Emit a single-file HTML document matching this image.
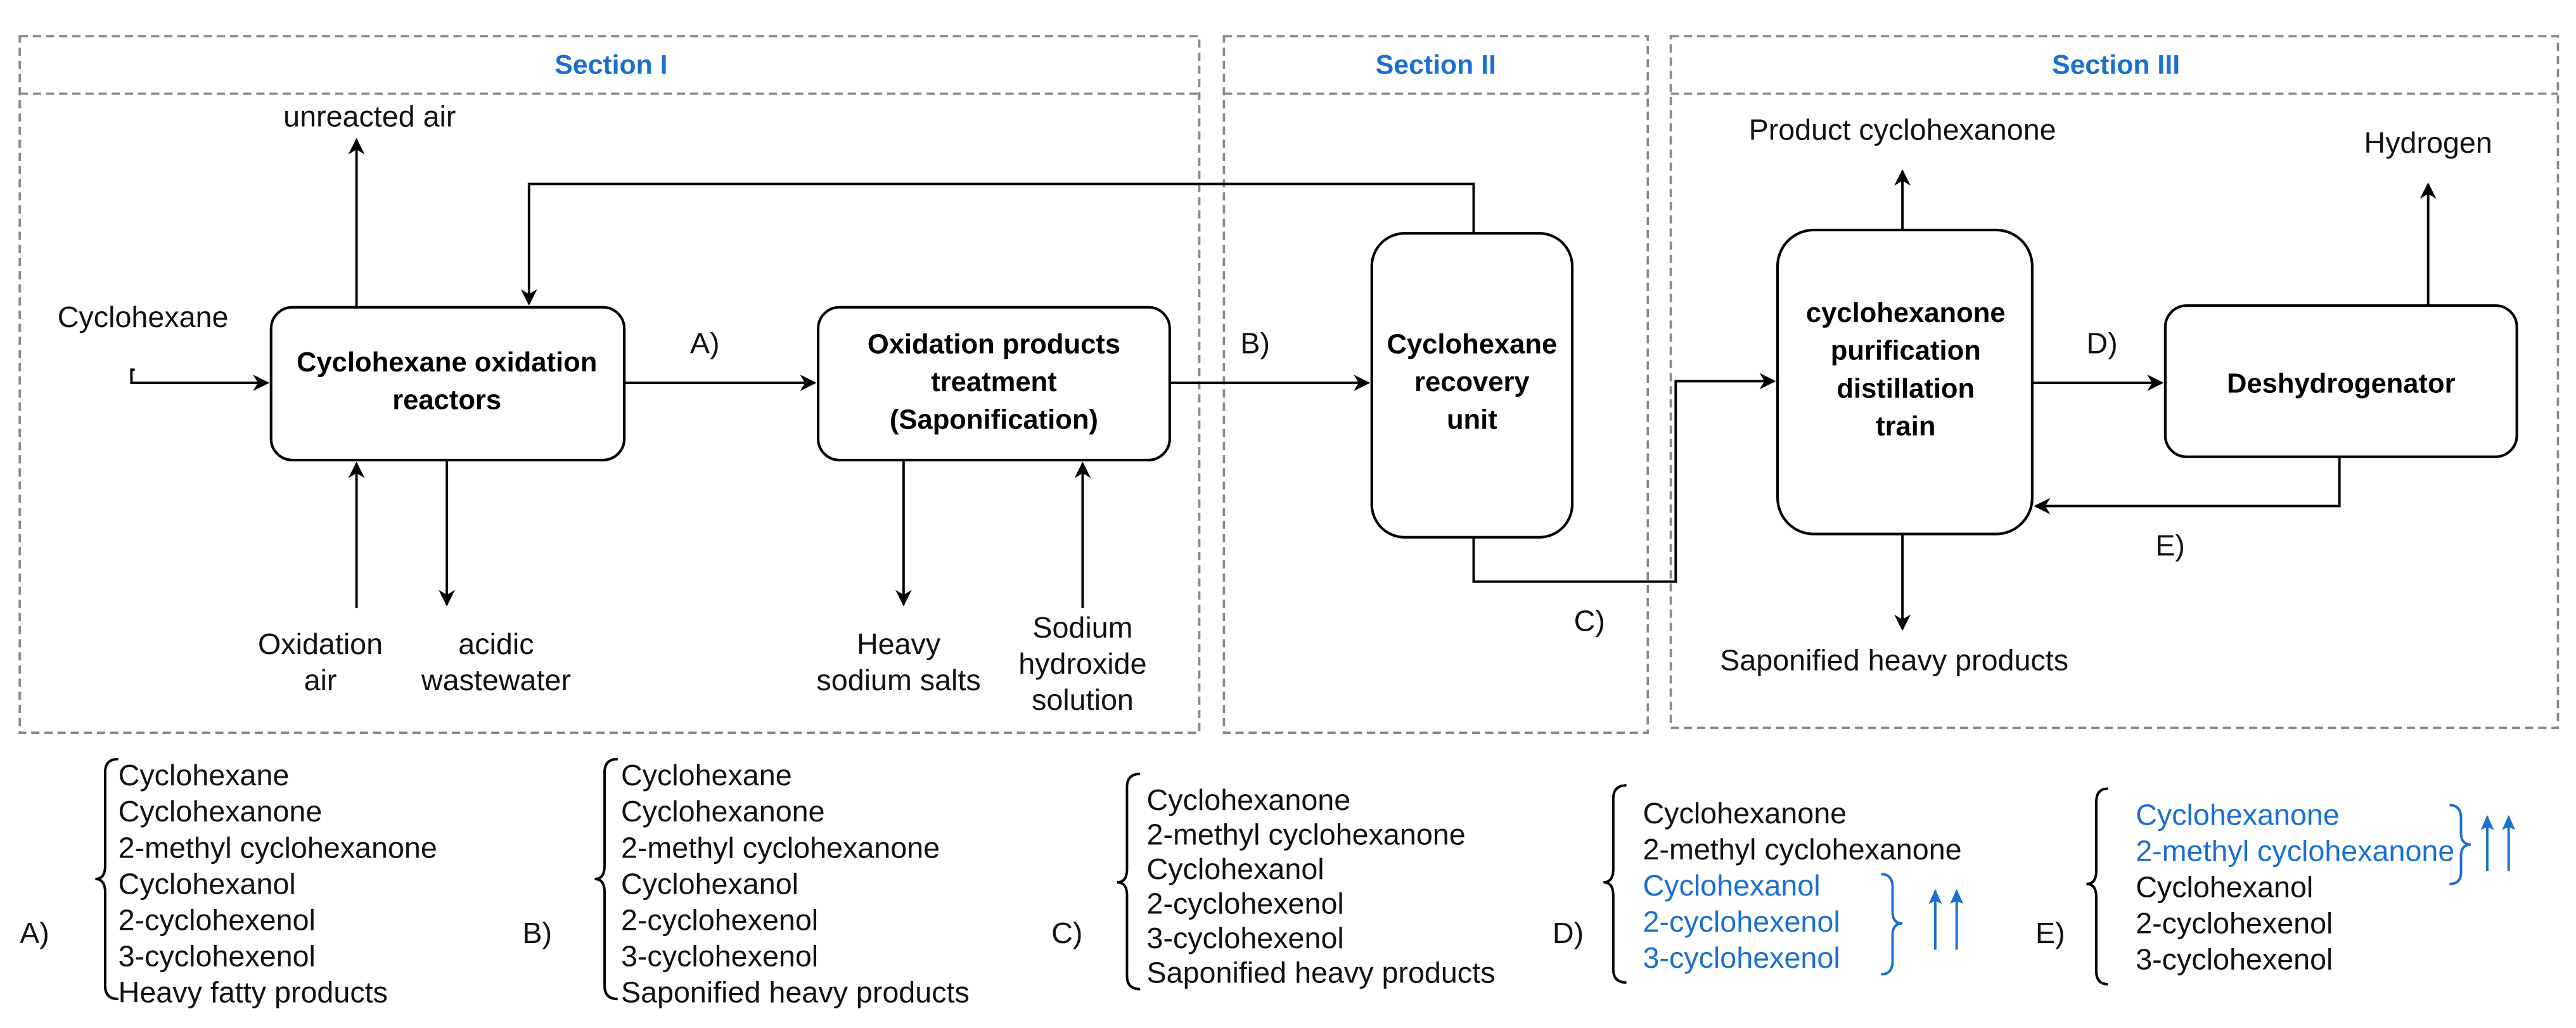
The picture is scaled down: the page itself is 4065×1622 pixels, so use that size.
<!DOCTYPE html>
<html><head><meta charset="utf-8"><style>
html,body{margin:0;padding:0;background:#fff;}
svg{display:block;}
text{font-family:"Liberation Sans",Arial,sans-serif;}
</style></head><body>
<svg width="4065" height="1622" viewBox="0 0 1568 625.66" xmlns="http://www.w3.org/2000/svg">
<defs>
<marker id="ar" viewBox="0 0 10 10" refX="9" refY="5" markerWidth="10" markerHeight="10" markerUnits="userSpaceOnUse" orient="auto">
<path d="M0,0 L10,5 L0,10 L3,5 Z" fill="#000"/></marker>
<marker id="ab" viewBox="0 0 10 10" refX="9" refY="5" markerWidth="9" markerHeight="9" markerUnits="userSpaceOnUse" orient="auto">
<path d="M0,0.5 L10,5 L0,9.5 L2,5 Z" fill="#1a6fd1"/></marker>
</defs>
<g fill="none" stroke="#888" stroke-width="1.4" stroke-dasharray="5,3">
<rect x="12" y="22" width="718" height="424"/><line x1="12" y1="57" x2="730" y2="57"/>
<rect x="745" y="22" width="258" height="424"/><line x1="745" y1="57" x2="1003" y2="57"/>
<rect x="1017" y="22" width="540" height="421"/><line x1="1017" y1="57" x2="1557" y2="57"/>
</g>
<g fill="#1a6fd1" font-size="16.5" font-weight="bold" text-anchor="middle">
<text x="372" y="45">Section I</text>
<text x="874" y="45">Section II</text>
<text x="1288" y="45">Section III</text>
</g>
<g fill="#fff" stroke="#000" stroke-width="1.6">
<rect x="165" y="187" width="215" height="93" rx="13"/>
<rect x="498" y="187" width="214" height="93" rx="13"/>
<rect x="835" y="142" width="122" height="185" rx="20"/>
<rect x="1082" y="140" width="155" height="185" rx="22"/>
<rect x="1318" y="186" width="214" height="92" rx="13"/>
</g>
<g font-size="16.8" font-weight="bold" text-anchor="middle" fill="#000">
<text x="272" y="226">Cyclohexane oxidation</text><text x="272" y="249">reactors</text>
<text x="605" y="215">Oxidation products</text><text x="605" y="238">treatment</text><text x="605" y="261">(Saponification)</text>
<text x="896" y="215">Cyclohexane</text><text x="896" y="238">recovery</text><text x="896" y="261">unit</text>
<text x="1160" y="196">cyclohexanone</text><text x="1160" y="219">purification</text><text x="1160" y="242">distillation</text><text x="1160" y="265">train</text>
<text x="1425" y="239">Deshydrogenator</text>
</g>
<g fill="none" stroke="#000" stroke-width="1.5">
<path d="M82,225 H80 V233 H163" marker-end="url(#ar)"/>
<path d="M217,187 V85" marker-end="url(#ar)"/>
<path d="M897,142 V112 H322 V185" marker-end="url(#ar)"/>
<path d="M217,370 V282" marker-end="url(#ar)"/>
<path d="M272,280 V368" marker-end="url(#ar)"/>
<path d="M380,233 H496" marker-end="url(#ar)"/>
<path d="M712,233 H833" marker-end="url(#ar)"/>
<path d="M550,280 V368" marker-end="url(#ar)"/>
<path d="M659,370 V282" marker-end="url(#ar)"/>
<path d="M897,327 V354 H1020 V232 H1080" marker-end="url(#ar)"/>
<path d="M1158,140 V104" marker-end="url(#ar)"/>
<path d="M1158,325 V383" marker-end="url(#ar)"/>
<path d="M1237,233 H1316" marker-end="url(#ar)"/>
<path d="M1424,278 V308 H1239" marker-end="url(#ar)"/>
<path d="M1478,186 V112" marker-end="url(#ar)"/>
</g>
<g font-size="18" fill="#111">
<text x="35" y="199">Cyclohexane</text>
<text x="225" y="77" text-anchor="middle">unreacted air</text>
<text x="420" y="215">A)</text>
<text x="755" y="215">B)</text>
<text x="958" y="384">C)</text>
<text x="1270" y="215">D)</text>
<text x="1312" y="338">E)</text>
<g text-anchor="middle">
<text x="195" y="398">Oxidation</text><text x="195" y="420">air</text>
<text x="302" y="398">acidic</text><text x="302" y="420">wastewater</text>
<text x="547" y="398">Heavy</text><text x="547" y="420">sodium salts</text>
<text x="659" y="388">Sodium</text><text x="659" y="410">hydroxide</text><text x="659" y="432">solution</text>
<text x="1158" y="85">Product cyclohexanone</text>
<text x="1153" y="408">Saponified heavy products</text>
<text x="1478" y="93">Hydrogen</text>
</g>
</g>
<g fill="none" stroke="#000" stroke-width="1.5">
<path d="M72,462 Q64,462 64,470 V527 Q64,535 58,535 Q64,535 64,543 V600 Q64,608 72,608"/>
<path d="M376,462 Q368,462 368,470 V527 Q368,535 362,535 Q368,535 368,543 V600 Q368,608 376,608"/>
<path d="M694,471 Q686,471 686,479 V529 Q686,537 680,537 Q686,537 686,545 V594 Q686,602 694,602"/>
<path d="M990,478 Q982,478 982,486 V529 Q982,537 976,537 Q982,537 982,545 V590 Q982,598 990,598"/>
<path d="M1283,480 Q1276,480 1276,488 V530 Q1276,538 1270,538 Q1276,538 1276,546 V591 Q1276,599 1283,599"/>
</g>
<g fill="none" stroke="#1a6fd1" stroke-width="1.5">
<path d="M1145,532 Q1152,532 1152,540 V555 Q1152,562 1158,562 Q1152,562 1152,569 V585 Q1152,593 1145,593"/>
<path d="M1491,490 Q1498,490 1498,498 V507 Q1498,514 1504,514 Q1498,514 1498,521 V531 Q1498,538 1491,538"/>
<path d="M1178,578 V542" marker-end="url(#ab)"/>
<path d="M1191,578 V542" marker-end="url(#ab)"/>
<path d="M1514,530 V497" marker-end="url(#ab)"/>
<path d="M1527,530 V497" marker-end="url(#ab)"/>
</g>
<g font-size="18" fill="#111">
<text x="12" y="574">A)</text>
<text x="72" y="478">Cyclohexane</text><text x="72" y="500">Cyclohexanone</text><text x="72" y="522">2-methyl cyclohexanone</text><text x="72" y="544">Cyclohexanol</text><text x="72" y="566">2-cyclohexenol</text><text x="72" y="588">3-cyclohexenol</text><text x="72" y="610">Heavy fatty products</text>
<text x="318" y="574">B)</text>
<text x="378" y="478">Cyclohexane</text><text x="378" y="500">Cyclohexanone</text><text x="378" y="522">2-methyl cyclohexanone</text><text x="378" y="544">Cyclohexanol</text><text x="378" y="566">2-cyclohexenol</text><text x="378" y="588">3-cyclohexenol</text><text x="378" y="610">Saponified heavy products</text>
<text x="640" y="574">C)</text>
<text x="698" y="493">Cyclohexanone</text><text x="698" y="514">2-methyl cyclohexanone</text><text x="698" y="535">Cyclohexanol</text><text x="698" y="556">2-cyclohexenol</text><text x="698" y="577">3-cyclohexenol</text><text x="698" y="598">Saponified heavy products</text>
<text x="945" y="574">D)</text>
<text x="1000" y="501">Cyclohexanone</text><text x="1000" y="523">2-methyl cyclohexanone</text>
<text x="1239" y="574">E)</text>
<text x="1300" y="546">Cyclohexanol</text><text x="1300" y="568">2-cyclohexenol</text><text x="1300" y="590">3-cyclohexenol</text>
</g>
<g font-size="18" fill="#1a6fd1">
<text x="1000" y="545">Cyclohexanol</text><text x="1000" y="567">2-cyclohexenol</text><text x="1000" y="589">3-cyclohexenol</text>
<text x="1300" y="502">Cyclohexanone</text><text x="1300" y="524">2-methyl cyclohexanone</text>
</g>
</svg>
</body></html>
